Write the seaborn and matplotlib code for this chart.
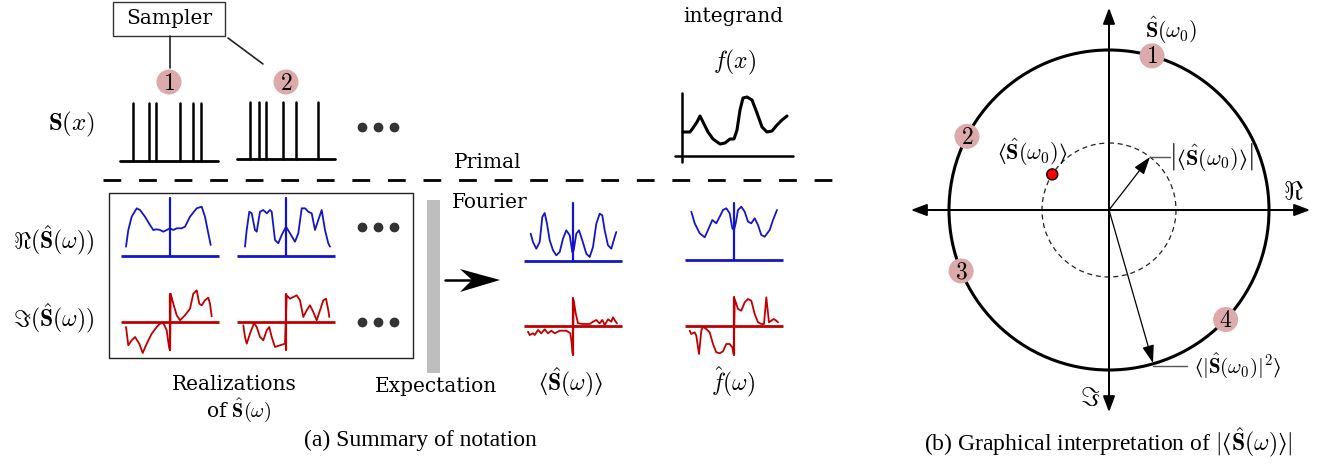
import numpy as np
import pandas as pd
import matplotlib
matplotlib.use("Agg")
import matplotlib.pyplot as plt
from matplotlib.patches import Circle, Rectangle, Polygon, FancyArrowPatch
import seaborn as sns

# ---- data (pixel offsets: dx from centre line, dy above baseline) ----
spikes_1 = [133, 149, 156, 180, 193, 201]
spikes_2 = [250, 259, 266, 283, 296, 318]

fx_x = [683, 690, 693, 697, 700, 703, 708, 713, 720, 725, 730, 734, 737, 740, 743, 747, 752, 757, 762, 767, 772, 777,
        782, 787]
fx_y = [132, 132, 128, 122, 116, 122, 132, 139, 144, 143, 139, 139, 130, 110, 98, 97, 100, 113, 127, 132, 131, 125,
        120, 116]

re1_dx = [-44, -41.7, -38.3, -33.3, -30, -25, -20, -16.7, -13.3, -10, -6.7, -3.3, 0, 3.3, 6.7, 11.7, 15, 20, 26.7, 31.7, 35, 38.3, 40.7]
re1_dy = [9.3, 26, 39.3, 47.7, 46, 39.3, 31, 26, 26.7, 26, 24.3, 26, 27.7, 26, 27.7, 27.7, 29.3, 39.3, 47.7, 49.3, 39.3, 22.7, 11]
re2_dx = [-41, -39.3, -36.7, -34.3, -31, -29.3, -26, -22.7, -19.3, -16, -14.3, -11, -7.7, -4.3, 0, 4, 9, 12.3, 15.7, 19,
          22.3, 25.7, 29, 32.3, 35.7, 39, 42.3, 44]
re2_dy = [9.3, 26, 44.3, 42.7, 26, 24.3, 44.3, 46, 42.7, 46, 44.3, 16, 12.7, 21, 29.3, 22.7, 14.3, 22.7, 47.7, 47.7,
          44.3, 42.7, 26, 36, 46, 26, 12.7, 9.3]
im1_dx = [-44, -41.7, -38.3, -35, -30.7, -27.3, -23.3, -18.3, -13.3, -10, -6.7, -3.3, -1, 0, 0.7, 3.3, 6.7, 10, 15, 20,
          23.3, 26.7, 29.3, 31.7, 35, 38.3, 40, 41.7]
im1_dy = [-5, -23.3, -18.3, -15, -21.7, -31, -21.7, -11.7, -5, -1.7, -1, -8.3, -25, -28.3, 28.3, 18.3, 6.7, 1.7, 6.7, 13.3,
          28.3, 31.7, 18.3, 16.7, 21.7, 24.3, 18.3, 5.7]
im2_dx = [-42.7, -41, -39.3, -36, -32, -29.3, -26, -22.7, -19.3, -16.7, -14.3, -11, -6, -1, 0.7, 4, 7.3, 10.7, 14, 17.3,
          20.7, 24, 27.3, 30.7, 34, 37.3, 40, 42.3, 43.3]
im2_dy = [-3.3, -15, -21.7, -11.7, -1, -5, -15, -18.3, -8.3, -5, -15, -25, -23.3, -21.7, 26.7, 23.3, 25, 26.7, 21.7, 5,
          11.7, 16.7, 10, 1.7, 11.7, 21.7, 23.3, 11.7, 5]

mean_re_dx = [-42.3, -40, -36.7, -33.3, -30.7, -28.3, -26, -23.3, -20, -16.7, -13.3, -10, -6.7, -3.3, -0.7, 0.7, 3.3, 6,
              9.3, 13.3, 16.7, 20, 23.3, 26.7, 29.3, 31.7, 35, 38.3, 41.7, 43.3]
mean_re_dy = [27.3, 19, 12.3, 19, 44, 48, 37.3, 20.7, 10.7, 5.7, 9, 22.3, 30.7, 25.7, 9, 10.7, 27.3, 30.7, 20.7, 7.3, 4,
              14, 37.3, 47.3, 45.7, 30.7, 15.7, 12.3, 24, 29]
mean_im_dx = [-45, -43.3, -40, -38.3, -35, -31.7, -28.3, -25, -21.7, -18.3, -13.3, -6.7, -2.7, -1.3, -0.3, 0.7, 2.7, 5,
              10, 16.7, 20, 23.3, 26.7, 29.3, 31.7, 35, 38.3, 40, 42.7, 44]
mean_im_dy = [-5.7, -9, -7.3, -9, -4, -7.3, -3.3, -7.3, -4.7, -7.3, -4.7, -4.7, -7.3, -17.3, -27.3, 26, 12.7, 2.7, 2, 2,
              4.3, 6, 2.7, 6, 1, 6.7, 4.3, 8.7, 4.3, 2.7]
fhat_re_dx = [-42.7, -39.3, -34.3, -29.3, -26, -21.7, -17.7, -14.3, -11, -7.7, -4.3, -1.7, 0, 1.7, 4, 7.3, 10.7, 14,
              17.3, 20.7, 24, 27.3, 30.7, 35.7, 39, 43]
fhat_re_dy = [48.3, 36.7, 26.7, 22.7, 30, 40, 36.7, 43.3, 50, 51.7, 46.7, 31.7, 30, 36.7, 50, 53.3, 48.3, 38.3, 36.7,
              41.7, 35, 25, 23.3, 30, 40, 50]
fhat_im_dx = [-44.3, -42.7, -39.3, -37.7, -35, -32.7, -31, -27.7, -24.3, -21, -17.7, -14.3, -11, -7.7, -4.3, -1.7, -0.3,
              0.7, 4, 7.3, 10.7, 14, 17.3, 20.7, 24, 27.3, 30, 32.3, 35, 37.3, 39.7, 42.3, 44]
fhat_im_dy = [-4.7, -8, -6.3, -9.7, -28, -4.7, -0.7, -3, -6.3, -18, -26.3, -27.3, -25.3, -18, -18, -21.3, -28, 27, 17,
              15.3, 23.7, 27, 25.3, 12, 3.7, 2, 2, 28.7, 3.7, 5.3, 7, 5.3, 3.7]

# samples of S_hat(omega_0) on the unit circle (angles in degrees) and their mean
sample_angles = [74.4, 152.6, 202.4, 316.8]
sample_labels = ["1", "2", "3", "4"]
mean_angle, mean_radius = 147.9, 67

BLUE = "#1515c8"
RED = "#c00000"
PINK = "#dcaaaa"
LA, RA = "\u27e8", "\u27e9"

sns.set_theme(style="white")
plt.rcParams["font.family"] = ["DejaVu Serif"]
plt.rcParams["mathtext.fontset"] = "cm"
plt.rcParams["text.color"] = "black"

fig = plt.figure(figsize=(13.2, 4.66), dpi=100)
ax = fig.add_axes([0, 0, 1, 1])
ax.set_xlim(0, 1320)
ax.set_ylim(466, 0)
ax.axis("off")

MATH = 17
TXT = 14.5
CAP = 17


def mini(cx, by, dx, dy, color, top, bot=None, half=49):
    """one small spectrum: baseline, centre line and curve"""
    ax.plot([cx - half, cx + half], [by, by], color=color, lw=2.0, solid_capstyle="butt")
    ax.plot([cx, cx], [by - top, by + (bot or 0)], color=color, lw=1.6)
    df = pd.DataFrame({"x": cx + np.array(dx), "y": by - np.array(dy)})
    sns.lineplot(data=df, x="x", y="y", sort=False, estimator=None, color=color, lw=1.3, ax=ax)


def dots(x0, y):
    ax.plot([x0, x0 + 16, x0 + 32], [y, y, y], "o", color="#333333", ms=6)


# ---- top row: sampler and sample sets ----
ax.add_patch(Rectangle((113, 2), 112, 34, fill=False, lw=1.0, ec="#333333"))
ax.text(169, 19, "Sampler", ha="center", va="center", fontsize=TXT)
ax.plot([170, 170], [36, 68], color="#222222", lw=1.2)
ax.plot([228, 263], [38, 64], color="#222222", lw=1.2)
for cx, lab in [(169, "1"), (286, "2")]:
    ax.add_patch(Circle((cx, 82), 12.5, color=PINK, lw=0))
    ax.text(cx, 83, "$" + lab + "$", ha="center", va="center", fontsize=MATH)

ax.text(72, 124, r"$\mathbf{S}(x)$", ha="center", va="center", fontsize=MATH + 1)
for sp, by, x0, x1, top in [(spikes_1, 161, 120, 218, 103), (spikes_2, 159, 237, 335, 102)]:
    ax.plot([x0, x1], [by, by], color="black", lw=2.0)
    for s in sp:
        ax.plot([s, s], [by, top], color="black", lw=1.8)
dots(362, 127)

ax.text(733, 17, "integrand", ha="center", va="center", fontsize=TXT)
ax.text(735, 62, r"$f(x)$", ha="center", va="center", fontsize=MATH)
ax.plot([682, 682], [93, 162], color="black", lw=1.8)
ax.plot([675, 793], [156, 156], color="black", lw=1.8)
sns.lineplot(x=fx_x, y=fx_y, sort=False, estimator=None, color="black", lw=2.2, ax=ax)

ax.text(488, 162, "Primal", ha="center", va="center", fontsize=TXT)
ax.plot([103, 835], [180, 180], color="black", lw=2.0, dashes=(6.4, 6.4))
ax.text(490, 203, "Fourier", ha="center", va="center", fontsize=TXT)

# ---- realizations box ----
ax.add_patch(Rectangle((109, 193), 304, 165, fill=False, lw=1.0, ec="#222222"))
ax.text(54, 240, r"$\Re(\hat{\mathbf{S}}(\omega))$", ha="center", va="center", fontsize=MATH)
ax.text(54, 318, r"$\Im(\hat{\mathbf{S}}(\omega))$", ha="center", va="center", fontsize=MATH)
mini(170, 256, re1_dx, re1_dy, BLUE, 58)
mini(286, 256, re2_dx, re2_dy, BLUE, 58)
mini(170, 322, im1_dx, im1_dy, RED, 28, 28)
mini(286, 322, im2_dx, im2_dy, RED, 28, 28)
dots(362, 227)
dots(362, 322)
ax.text(234, 385, "Realizations", ha="center", va="center", fontsize=TXT)
ax.text(239, 410, r"of $\hat{\mathbf{S}}(\omega)$", ha="center", va="center", fontsize=TXT)

ax.add_patch(Rectangle((427, 200), 13, 173, color="#bebebe", lw=0))
ax.text(436, 387, "Expectation", ha="center", va="center", fontsize=TXT)
ax.plot([445, 478], [280, 280], color="black", lw=1.8)
ax.add_patch(Polygon([[500, 280], [460, 269], [472, 280], [460, 292]], closed=True, color="black", lw=0))

mini(573, 261, mean_re_dx, mean_re_dy, BLUE, 58)
mini(573, 326, mean_im_dx, mean_im_dy, RED, 28, 29)
mini(734, 260, fhat_re_dx, fhat_re_dy, BLUE, 57)
mini(734, 326, fhat_im_dx, fhat_im_dy, RED, 29, 29)
ax.text(571, 382, "$" + LA + r"\hat{\mathbf{S}}(\omega)" + RA + "$", ha="center", va="center", fontsize=MATH)
ax.text(733, 382, r"$\hat{f}(\omega)$", ha="center", va="center", fontsize=MATH)

ax.text(420, 440, "(a) Summary of notation", ha="center", va="center", fontsize=CAP,
        family=["Liberation Serif"])

# ---- right panel: complex plane ----
C = np.array([1109, 210])
R = 160
ax.add_patch(Circle(C, R, fill=False, lw=2.2, ec="black"))
ax.add_patch(Circle(C, mean_radius, fill=False, lw=0.9, ec="#222222", ls=(0, (4, 3))))
akw = dict(arrowstyle="-|>,head_length=0.8,head_width=0.3", color="black", lw=1.4, mutation_scale=12)
ax.add_patch(FancyArrowPatch((930, 210), (1313, 210), **akw))
ax.add_patch(FancyArrowPatch((1290, 210), (908, 210), **akw))
ax.add_patch(FancyArrowPatch((1109, 390), (1109, 5), **akw))
ax.add_patch(FancyArrowPatch((1109, 30), (1109, 415), **akw))

for a, lab in zip(sample_angles, sample_labels):
    t = np.deg2rad(a)
    p = C + R * np.array([np.cos(t), -np.sin(t)])
    ax.add_patch(Circle(p, 12.5, color=PINK, lw=0, zorder=3))
    ax.text(p[0], p[1] + 1, "$" + lab + "$", ha="center", va="center", fontsize=MATH, zorder=4)

tm = np.deg2rad(mean_angle)
pm = C + mean_radius * np.array([np.cos(tm), -np.sin(tm)])
ax.add_patch(Circle(pm, 5.5, fc="red", ec="black", lw=1.0, zorder=3))

thin = dict(arrowstyle="-|>,head_length=0.9,head_width=0.3", color="black", lw=0.9, mutation_scale=12,
            shrinkA=0, shrinkB=0)
ax.add_patch(FancyArrowPatch(tuple(C), (1150, 157), **thin))
ax.add_patch(FancyArrowPatch(tuple(C), (1153, 363), **thin))
ax.plot([1150, 1170], [157, 157], color="#555555", lw=1.0)
ax.plot([1153, 1187], [366, 366], color="#555555", lw=1.0)

ax.text(1171, 30, r"$\hat{\mathbf{S}}(\omega_0)$", ha="center", va="center", fontsize=MATH - 1)
ax.text(1032, 152, "$" + LA + r"\hat{\mathbf{S}}(\omega_0)" + RA + "$", ha="center", va="center", fontsize=MATH - 1)
ax.text(1211, 157, r"$\left|" + LA + r"\hat{\mathbf{S}}(\omega_0)" + RA + r"\right|$", ha="center", va="center",
        fontsize=MATH - 1)
ax.text(1238, 366, "$" + LA + r"|\hat{\mathbf{S}}(\omega_0)|^2" + RA + "$", ha="center", va="center",
        fontsize=MATH - 2)
ax.text(1293, 191, r"$\Re$", ha="center", va="center", fontsize=MATH + 2)
ax.text(1090, 397, r"$\Im$", ha="center", va="center", fontsize=MATH + 2)
ax.text(1108, 442, "(b) Graphical interpretation of $|" + LA + r"\hat{\mathbf{S}}(\omega)" + RA + "|$",
        ha="center", va="center", fontsize=CAP, family=["Liberation Serif"])

fig.savefig("out.png", dpi=100)
